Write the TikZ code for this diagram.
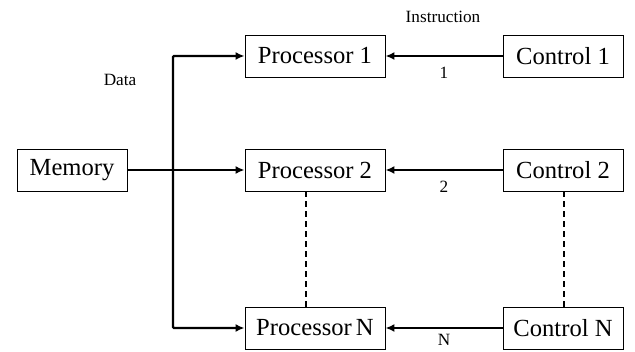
\documentclass[tikz,border=0pt]{standalone}
\usepackage{fontspec}
\setmainfont{Liberation Serif}
\usetikzlibrary{arrows.meta}

\begin{document}
\begin{tikzpicture}[x=1pt, y=-1pt,
box/.style={draw, line width=0.9pt, minimum height=42pt, inner sep=0pt, font=\fontsize{24.6}{26}\selectfont},
bigarrow/.style={line width=2.4pt, -{Latex[length=9pt,width=8pt]}},
small/.style={font=\fontsize{17.2}{19}\selectfont}]
\useasboundingbox (0,0) rectangle (635,352);
\node[box, minimum width=110pt] (mem) at (72,170) {Memory};
\node[box, minimum width=140pt] (p1) at (315,56) {Processor 1};
\node[box, minimum width=140pt] (p2) at (315,170) {Processor 2};
\node[box, minimum width=140pt] (pn) at (315,328) {Processor\,N};
\node[box, minimum width=120pt] (c1) at (563,56) {Control 1};
\node[box, minimum width=120pt] (c2) at (563,170) {Control 2};
\node[box, minimum width=120pt] (cn) at (563,328) {Control N};
\coordinate (bus) at (173,170);
% data paths
\draw[bigarrow] (mem) -- (p2);
\draw[bigarrow, rounded corners=1pt] (bus) |- (p1);
\draw[bigarrow, rounded corners=1pt] (bus) |- (pn);
\node[small] (data) at (120,80) {Data};
% instruction paths
\draw[bigarrow] (c1) -- (p1) node[small, midway, below=7pt] (l1) {1};
\draw[bigarrow] (c2) -- (p2) node[small, midway, below=7pt] (l2) {2};
\draw[bigarrow] (cn) -- (pn) node[small, midway, below=2pt] (ln) {N};
\node[small] (instr) at (443,17) {Instruction};
% dots
\draw[dashed, line width=1.3pt, dash pattern=on 6pt off 4pt] (p2.south -| 306,0) -- (pn.north -| 306,0);
\draw[dashed, line width=1.3pt, dash pattern=on 6pt off 4pt] (c2.south -| 564,0) -- (cn.north -| 564,0);
\end{tikzpicture}
\end{document}
